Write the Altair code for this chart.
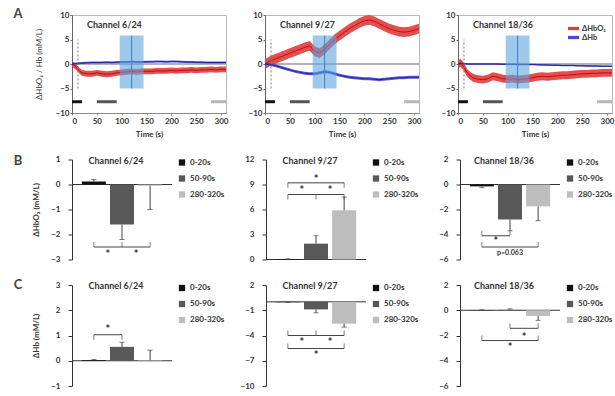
import altair as alt
import pandas as pd

FONT = "Lato"
CHANNELS = ["Channel 6/24", "Channel 9/27", "Channel 18/36"]
SERIES = ["ΔHbO₂", "ΔHb"]
WINDOWS = ["0-20s", "50-90s", "280-320s"]

# ---------------- Row A: time courses ----------------
TIME = [0, 5, 10, 15, 20, 30, 40, 50, 60, 70, 80, 90, 100, 110, 120, 130, 140,
        150, 160, 170, 180, 190, 200, 210, 220, 230, 240, 250, 260, 270, 280, 290, 300, 310]

HBO2_CH6 = [0, -0.3, -0.8, -1.4, -1.8, -2.0, -2.0, -1.8, -2.0, -2.1, -2.0, -1.8, -1.7, -1.6, -1.5, -1.6, -1.5,
            -1.5, -1.5, -1.4, -1.4, -1.4, -1.3, -1.4, -1.3, -1.3, -1.2, -1.3, -1.2, -1.2, -1.1, -1.2, -1.1, -1.1]
HB_CH6 = [0, 0.05, 0.1, 0.15, 0.2, 0.25, 0.3, 0.3, 0.3, 0.35, 0.3, 0.35, 0.4, 0.4, 0.45, 0.4, 0.4,
          0.45, 0.45, 0.5, 0.5, 0.45, 0.5, 0.5, 0.45, 0.4, 0.4, 0.35, 0.35, 0.3, 0.3, 0.3, 0.3, 0.3]
HBO2_CH9 = [0, 0.3, 0.6, 0.8, 1.0, 1.4, 1.8, 2.2, 2.6, 3.0, 3.4, 3.7, 2.6, 2.2, 3.0, 4.0, 5.0,
            5.8, 6.5, 7.2, 7.8, 8.4, 8.8, 9.0, 8.7, 8.2, 7.7, 7.2, 6.9, 6.6, 6.5, 6.6, 6.9, 7.2]
HB_CH9 = [0, 0, -0.1, -0.2, -0.3, -0.6, -0.9, -1.2, -1.5, -1.7, -1.9, -2.0, -2.0, -1.8, -1.6, -1.7, -2.0,
          -2.3, -2.5, -2.7, -2.8, -2.9, -3.0, -3.0, -3.1, -3.2, -3.1, -3.0, -2.9, -2.8, -2.8, -2.7, -2.7, -2.7]
HBO2_CH18 = [0, 0.2, -0.3, -1.2, -2.0, -2.8, -3.1, -3.2, -3.0, -2.5, -2.7, -3.0, -3.1, -3.0, -3.2, -3.1, -3.0,
             -2.8, -2.6, -2.5, -2.6, -2.5, -2.4, -2.3, -2.3, -2.2, -2.1, -2.0, -2.0, -1.9, -1.9, -1.8, -1.8, -1.8]
HB_CH18 = [0, 0.1, 0.1, 0.05, 0, 0, 0, 0, 0, 0, 0, -0.05, -0.05, -0.05, -0.1, -0.1, -0.1,
           -0.1, -0.15, -0.2, -0.2, -0.25, -0.25, -0.3, -0.3, -0.3, -0.35, -0.35, -0.4, -0.4, -0.4, -0.45, -0.45, -0.45]
HBO2 = [HBO2_CH6, HBO2_CH9, HBO2_CH18]
HB = [HB_CH6, HB_CH9, HB_CH18]
SEM_HBO2 = [0.6, 1.0, 0.8]
SEM_HB = [0.2, 0.3, 0.15]

WIN_START = [0, 50, 280]
WIN_END = [20, 90, 320]
WIN_LEVEL = -7.7
STIM_START, STIM_END, STIM_MID = 96, 144, 120
STIM_LOW, STIM_HIGH = -5, 5.8
ONSET_T, ONSET_LOW, ONSET_HIGH = 12, -5, 5

# ---------------- Rows B/C: window means ----------------
HBO2_BAR = [[0.12, -1.6, -0.05], [0.05, 1.9, 5.9], [-0.15, -2.8, -1.75]]
HBO2_ERR = [[0.08, 0.6, 0.95], [0.03, 0.95, 1.6], [0.1, 0.9, 1.15]]
HB_BAR = [[0.03, 0.55, 0.02], [-0.05, -0.9, -2.6], [0.02, 0.03, -0.45]]
HB_ERR = [[0.02, 0.18, 0.4], [0.02, 0.4, 0.4], [0.02, 0.08, 0.35]]

B_DOMAINS = [[-3, 1], [0, 12], [-6, 2]]
B_TICKS = [[-3, -2, -1, 0, 1], [0, 3, 6, 9, 12], [-6, -4, -2, 0, 2]]
C_DOMAINS = [[-1, 3], [-10, 2], [-6, 2]]
C_TICKS = [[-1, 0, 1, 2, 3], [-10, -7, -4, -1, 2], [-6, -4, -2, 0, 2]]

# significance brackets: (from bar, to bar, level, leg direction, middle leg)
B_BRACKETS = [
    [(1, 3, -2.5, "up", True)],
    [(1, 3, 7.8, "down", True), (1, 3, 9.2, "down", False)],
    [(1, 2, -4.1, "up", False), (1, 3, -5.0, "up", False)],
]
B_MARKS = [
    [(1.5, -2.75, "*"), (2.5, -2.75, "*")],
    [(1.5, 8.45, "*"), (2.5, 8.45, "*"), (2, 9.75, "*")],
    [(1.5, -4.45, "*"), (2, -5.45, "p=0.063")],
]
C_BRACKETS = [
    [(1, 2, 1.03, "down", False)],
    [(1, 3, -4.0, "up", True), (1, 3, -5.55, "up", False)],
    [(2, 3, -1.43, "up", False), (1, 3, -2.4, "up", False)],
]
C_MARKS = [
    [(1.5, 1.3, "*")],
    [(1.5, -4.7, "*"), (2.5, -4.7, "*"), (2, -6.25, "*")],
    [(2.5, -2.0, "*"), (2, -2.85, "*")],
]

RED_BAND, RED_LINE = "#e23b3b", "#b80f0f"
BLUE_BAND, BLUE_LINE = "#4a4ad0", "#22229a"
WIN_COLORS = ["#111111", "#555555", "#b5b5b5"]
BAR_COLORS = ["#111111", "#595959", "#bdbdbd"]
TXT = "#333333"


def letter_layer(letter, yoff):
    return alt.Chart(pd.DataFrame({"c": [letter]})).mark_text(
        fontSize=13, fontWeight="bold", color="#444", align="center", baseline="middle"
    ).encode(x=alt.value(-54), y=alt.value(yoff), text="c:N")


def a_panel(k):
    recs = []
    for name, vals, sem in ((SERIES[0], HBO2[k], SEM_HBO2[k]), (SERIES[1], HB[k], SEM_HB[k])):
        for t, v in zip(TIME, vals):
            recs.append({"t": t, "v": v, "lo": v - sem, "hi": v + sem, "s": name, "series": name})
    df = pd.DataFrame(recs)
    xs = alt.Scale(domain=[0, 310], nice=False, zero=False)
    ys = alt.Scale(domain=[-10, 10], nice=False, zero=False)
    xa = alt.Axis(values=[0, 50, 100, 150, 200, 250, 300], title="Time (s)", labelFontSize=8,
                  titleFontSize=8, tickSize=2, labelPadding=2, titlePadding=5, domainColor="#888",
                  tickColor="#888", labelColor=TXT, titleColor=TXT, labelFontWeight="bold",
                  titleFontWeight="bold", grid=False)
    ya = alt.Axis(values=[-10, -5, 0, 5, 10], title=("ΔHbO₂ / Hb (mM/L)" if k == 0 else None),
                  labelFontSize=8, titleFontSize=8, tickSize=2, labelPadding=1, titlePadding=12,
                  domainColor="#666", tickColor="#666", labelColor=TXT, titleColor=TXT,
                  labelFontWeight="bold", titleFontWeight="normal", grid=False)

    def X(f):
        return alt.X(f, type="quantitative", scale=xs, axis=xa)

    def Y(f):
        return alt.Y(f, type="quantitative", scale=ys, axis=ya)

    zero = alt.Chart(pd.DataFrame({"z": [0]})).mark_rule(color="#9a9a9a", strokeWidth=1.3).encode(y=Y("z"))
    wins = [
        alt.Chart(pd.DataFrame({"start": [WIN_START[i]], "end": [WIN_END[i]], "lvl": [WIN_LEVEL]}))
        .mark_rule(strokeWidth=3, clip=True, color=WIN_COLORS[i])
        .encode(x=X("start"), x2="end", y=Y("lvl"))
        for i in range(3)
    ]
    if k == 2:
        fill_leg = alt.Legend(orient="none", legendX=110, legendY=8, title=None, labelFontSize=7.5,
                              labelFontWeight="bold", symbolType="M-1,-0.3L1,-0.3L1,0.3L-1,0.3Z",
                              symbolSize=120, symbolStrokeWidth=0, rowPadding=0, padding=0,
                              labelColor=TXT, labelOffset=3, symbolOpacity=1)
    else:
        fill_leg = None
    band = alt.Chart(df).mark_area(opacity=0.9).encode(
        x=X("t"), y=Y("lo"), y2="hi",
        fill=alt.Fill("s:N", scale=alt.Scale(domain=SERIES, range=[RED_BAND, BLUE_BAND]), legend=fill_leg))
    line = alt.Chart(df).mark_line(strokeWidth=1).encode(
        x=X("t"), y=Y("v"),
        color=alt.Color("series:N", scale=alt.Scale(domain=SERIES, range=[RED_LINE, BLUE_LINE]), legend=None))
    stim = alt.Chart(pd.DataFrame({"x1": [STIM_START], "x2": [STIM_END], "y1": [STIM_LOW],
                                   "y2": [STIM_HIGH]})).mark_rect(color="#5ea3e0", opacity=0.6).encode(
        x=X("x1"), x2="x2", y=Y("y1"), y2="y2")
    mid = alt.Chart(pd.DataFrame({"x": [STIM_MID], "y1": [STIM_LOW], "y2": [STIM_HIGH]})).mark_rule(
        color="#3f7fc4", strokeWidth=1).encode(x=X("x"), y=Y("y1"), y2="y2")
    onset = alt.Chart(pd.DataFrame({"x": [ONSET_T], "y1": [ONSET_LOW], "y2": [ONSET_HIGH]})).mark_rule(
        color="#777", strokeWidth=1, strokeDash=[2, 2]).encode(x=X("x"), y=Y("y1"), y2="y2")
    title = alt.Chart(pd.DataFrame({"c": [CHANNELS[k]]})).mark_text(
        fontSize=9, fontWeight="bold", color=TXT, align="left", baseline="middle"
    ).encode(x=alt.value(15), y=alt.value(10), text="c:N")
    layers = [zero] + wins + [band, line, stim, mid, onset, title]
    if k == 0:
        layers.append(letter_layer("A", -1))
    return alt.layer(*layers).properties(width=154, height=98,
                                         view=alt.ViewBackground(stroke="#b8b8b8", strokeWidth=1))


def bar_panel(k, vals, errs, dom, ticks, brackets, marks, ytitle, letter, letter_y, height):
    df = pd.DataFrame({"w": WINDOWS, "i": [1, 2, 3], "v": vals, "e": errs})
    df["end"] = [v + e if v >= 0 else v - e for v, e in zip(vals, errs)]
    xs = alt.Scale(domain=[0.4, 3.6], nice=False, zero=False)
    ys = alt.Scale(domain=dom, nice=False, zero=False)
    ya = alt.Axis(values=ticks, title=(ytitle if k == 0 else None), labelFontSize=8, titleFontSize=8,
                  tickSize=4, labelPadding=8, titlePadding=10, domainColor="#333", tickColor="#333",
                  labelColor=TXT, titleColor=TXT, labelFontWeight="bold", grid=False)

    def X(f):
        return alt.X(f, type="quantitative", scale=xs, axis=None)

    def Y(f):
        return alt.Y(f, type="quantitative", scale=ys, axis=ya)

    base = alt.Chart(df)
    zero = alt.Chart(pd.DataFrame({"z": [0]})).mark_rule(color="#333", strokeWidth=1).encode(y=Y("z"))
    bars = base.mark_bar(size=24).encode(
        x=X("i"), y=Y("v"), y2=alt.Y2(datum=0),
        color=alt.Color("w:N", scale=alt.Scale(domain=WINDOWS, range=BAR_COLORS),
                        legend=alt.Legend(title=None, orient="none", legendX=106, legendY=-1,
                                          symbolType="square", symbolSize=40, labelFontSize=8,
                                          labelFontWeight="bold", rowPadding=8, padding=0,
                                          labelColor=TXT, symbolStrokeWidth=0)))
    err = base.mark_rule(color="#444", strokeWidth=1).encode(x=X("i"), y=Y("v"), y2="end")
    cap = base.mark_tick(orient="horizontal", size=5, thickness=1, color="#444").encode(x=X("i"), y=Y("end"))

    brows, up, down = [], [], []
    for a, b, lvl, d, midleg in brackets:
        brows.append({"a": a, "b": b, "lvl": lvl})
        pts = [a, b] + ([(a + b) / 2] if midleg else [])
        for p in pts:
            (up if d == "up" else down).append({"p": p, "lvl": lvl})
    layers = [zero, bars, err, cap]
    layers.append(alt.Chart(pd.DataFrame(brows)).mark_rule(color="#444", strokeWidth=1).encode(
        x=X("a"), x2="b", y=Y("lvl")))
    if up:
        layers.append(alt.Chart(pd.DataFrame(up)).mark_tick(
            orient="vertical", size=5, thickness=1, color="#444", yOffset=-2.5).encode(x=X("p"), y=Y("lvl")))
    if down:
        layers.append(alt.Chart(pd.DataFrame(down)).mark_tick(
            orient="vertical", size=5, thickness=1, color="#444", yOffset=2.5).encode(x=X("p"), y=Y("lvl")))
    stars = [{"x": x, "y": y, "t": t} for x, y, t in marks if t == "*"]
    notes = [{"x": x, "y": y, "t": t} for x, y, t in marks if t != "*"]
    if stars:
        layers.append(alt.Chart(pd.DataFrame(stars)).mark_text(
            fontSize=11, fontWeight="bold", color="#333", baseline="middle", dy=2).encode(
            x=X("x"), y=Y("y"), text="t:N"))
    if notes:
        layers.append(alt.Chart(pd.DataFrame(notes)).mark_text(
            fontSize=7, fontWeight="bold", color="#333", baseline="middle").encode(
            x=X("x"), y=Y("y"), text="t:N"))
    layers.append(alt.Chart(pd.DataFrame({"c": [CHANNELS[k]]})).mark_text(
        fontSize=9, fontWeight="bold", color=TXT, align="center", baseline="middle"
    ).encode(x=alt.value(44), y=alt.value(1), text="c:N"))
    if k == 0:
        layers.append(letter_layer(letter, letter_y))
    return alt.layer(*layers).properties(width=100, height=height)


RES = dict(x="independent", y="independent", color="independent", fill="independent")

row_a = alt.hconcat(*[a_panel(k) for k in range(3)], spacing=39, bounds="flush").resolve_scale(**RES)
row_b = alt.hconcat(*[bar_panel(k, HBO2_BAR[k], HBO2_ERR[k], B_DOMAINS[k], B_TICKS[k], B_BRACKETS[k],
                                B_MARKS[k], "ΔHbO₂ (mM/L)", "B", 1, 100) for k in range(3)],
                    spacing=94, bounds="flush").resolve_scale(**RES)
row_c = alt.hconcat(*[bar_panel(k, HB_BAR[k], HB_ERR[k], C_DOMAINS[k], C_TICKS[k], C_BRACKETS[k],
                                C_MARKS[k], "ΔHb (mM/L)", "C", 0, 101) for k in range(3)],
                    spacing=94, bounds="flush").resolve_scale(**RES)

chart = alt.vconcat(row_a, row_b, row_c, spacing=15.5).resolve_scale(**RES).properties(
    padding={"left": 12, "top": 7, "right": 0, "bottom": 0}
).configure(font=FONT).configure_view(stroke=None)

chart.save("out.html", embed_options={"renderer": "svg", "actions": False})
